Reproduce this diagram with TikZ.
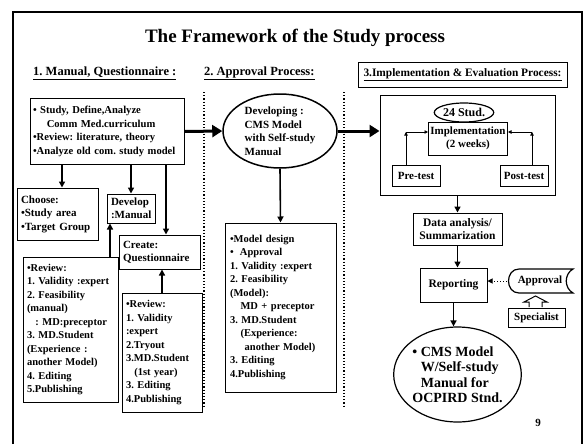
\documentclass[tikz,border=0pt]{standalone}
\usepackage{fontspec}
\setmainfont{Liberation Serif}
\usetikzlibrary{arrows.meta,shapes.geometric}
\frenchspacing
\begin{document}
\begin{tikzpicture}[x=1pt,y=-1pt,
  bx/.style={draw, line width=1pt, inner xsep=4pt, inner ysep=2pt, align=left},
  f11/.style={font=\bfseries\fontsize{11}{13.5}\selectfont},
  f105/.style={font=\bfseries\fontsize{10.5}{13.5}\selectfont},
  hd/.style={font=\bfseries\fontsize{12.5}{14}\selectfont, inner sep=0pt},
  arr/.style={line width=1.6pt, -{Triangle[length=6pt,width=6pt]}},
  bigarr/.style={line width=3pt, -{Triangle[length=10pt,width=12pt]}},
  sarr/.style={line width=0.8pt, -{Triangle[length=3.5pt,width=3.5pt]}},
  sepline/.style={line width=1.2pt, dotted},
]
\useasboundingbox (0,0) rectangle (585,444);
\fill[white] (0,0) rectangle (585,444);
% outer frame
\draw[line width=2pt] (13,444) -- (13,12);
\draw[line width=1.2pt] (12,12) -- (582,12) -- (582,444);

% title and headers
\node[font=\bfseries\fontsize{19}{22}\selectfont] (title) at (295,38) {The Framework of the Study process};
\node[hd, anchor=west] (h1) at (33,73) {\underline{1. Manual, Questionnaire :}};
\node[hd, anchor=west] (h2) at (204,73) {\underline{2. Approval Process:}};
\node[bx, font=\bfseries\fontsize{11.4}{13}\selectfont, minimum width=209pt, minimum height=25pt, align=center, inner xsep=2pt] (h3) at (462.5,74.5) {\underline{3.Implementation \& Evaluation Process:}};

% column separators
\draw[sepline] (204,92) -- (204,407);
\draw[sepline] (344,92) -- (344,407);

% column 1
\node[bx, font=\bfseries\fontsize{10.6}{13.5}\selectfont, minimum width=154pt, text width=148pt, inner xsep=3pt, minimum height=66pt] (b1) at (107,131.5)
  {• Study, Define,Analyze\\\hspace*{1.3em}Comm Med.curriculum\\•Review: literature, theory\\•Analyze old com. study model};
\node[bx, f11, minimum width=81pt, text width=73pt, minimum height=52pt] (choose) at (57.5,214)
  {Choose:\\•Study area\\•Target Group};
\node[bx, f11, minimum width=48pt, text width=40pt, minimum height=29pt, inner xsep=4pt] (develop) at (131,208.5)
  {Develop\\:Manual};
\node[bx, f11, minimum width=81pt, text width=73pt, minimum height=34pt] (create) at (159.5,252)
  {Create:\\Questionnaire};
\node[bx, f105, minimum width=95pt, text width=87pt, minimum height=145pt] (revL) at (70.5,329.5)
  {•Review:\\1. Validity :expert\\2. Feasibility\\(manual)\\\hspace*{0.8em}: MD:preceptor\\3. MD.Student\\(Experience :\\another Model)\\4. Editing\\5.Publishing};
\node[bx, f105, minimum width=80pt, text width=72pt, minimum height=119pt] (revR) at (162,352.5)
  {•Review:\\1. Validity\\:expert\\2.Tryout\\3.MD.Student\\\hspace*{0.8em}(1st year)\\3. Editing\\4.Publishing};

\coordinate (xa) at (62,0);
\coordinate (xc) at (166,0);
\coordinate (xd) at (110,0);
\draw[arr] (b1.south -| xa) -- (choose.north -| xa);
\draw[arr] (b1.south -| develop.north) -- (develop.north);
\draw[arr] (b1.south -| xc) -- (create.north -| xc);
\draw[arr] (revL.north -| xd) -- (develop.south -| xd);
\draw[arr] (revR.north) -- (revR.north |- create.south);

% column 2
\node[ellipse, draw, line width=1.5pt, minimum width=114pt, minimum height=74pt, inner sep=0pt, f11, align=left] (dev) at (280,131)
  {Developing :\\CMS Model\\with Self-study\\Manual};
\node[bx, f105, minimum width=111pt, text width=101pt, inner xsep=5pt, minimum height=169pt] (model) at (280.5,307.5)
  {•Model design\\•\hspace*{0.6em}Approval\\1. Validity :expert\\2. Feasibility\\(Model):\\\hspace*{1em}MD + preceptor\\3. MD.Student\\\hspace*{1em}(Experience:\\\hspace*{1.4em}another Model)\\3. Editing\\4.Publishing};
\draw[bigarr] (b1.east) -- (dev.west);
\draw[arr] (dev.south) -- (model.north);

% column 3
\node[bx, minimum width=175pt, minimum height=100pt] (box3) at (467.5,145) {};
\draw[bigarr] (dev.east) -- (dev.east -| box3.west);
\node[ellipse, draw, line width=1.2pt, minimum width=53pt, minimum height=19pt, inner sep=0pt, font=\bfseries\fontsize{12}{13}\selectfont] (stud) at (464,112.5) {24 Stud.};
\node[bx, f11, align=center, minimum width=79pt, minimum height=33pt, inner xsep=1pt, inner ysep=1pt] (impl) at (468,138.5) {Implementation\\(2 weeks)};
\node[bx, f11, align=center, minimum width=48pt, minimum height=21pt, inner xsep=1pt] (pre) at (416,175.5) {Pre-test};
\node[bx, f11, align=center, minimum width=48pt, minimum height=21pt, inner xsep=1pt] (post) at (524,175.5) {Post-test};
\coordinate (c1) at (406,132);
\coordinate (c2) at (532,132);
\draw[sarr] (pre.north -| c1) -- (c1);
\draw[sarr] (c1) -- (c1 -| impl.west);
\draw[sarr] (post.north -| c2) -- (c2);
\draw[sarr] (c2) -- (c2 -| impl.east);

\node[bx, font=\bfseries\fontsize{11.5}{13.5}\selectfont, align=center, minimum width=89pt, minimum height=32pt] (data) at (457.5,229) {Data analysis/\\Summarization};
\draw[arr] (box3.south -| data.north) -- (data.north);
\node[bx, font=\bfseries\fontsize{11.5}{13.5}\selectfont, align=center, minimum width=67pt, minimum height=34pt] (rep) at (453.5,285) {Reporting};
\draw[arr] (data.south) -- (data.south |- rep.north);

\node[minimum width=66pt, minimum height=24pt, inner sep=0pt, f11] (appr) at (540,281) {Approval};
\draw[line width=1.2pt] (519,269) -- (573,269) .. controls (564,274) and (564,288) .. (573,293) -- (519,293) .. controls (505,293) and (505,269) .. (519,269);
\draw[line width=1pt, dotted, -{Triangle[length=5pt,width=5pt]}] (appr.west) -- (rep.east |- appr.west);
\node[bx, f11, align=center, minimum width=57pt, minimum height=19pt, inner xsep=1pt, inner ysep=1pt] (spec) at (536.5,317.5) {Specialist};
\draw[line width=1pt, fill=white] (529,307) -- (529,302) -- (524,302) -- (535.5,296) -- (547,302) -- (542,302) -- (542,307);

\node[ellipse, draw, line width=1.2pt, minimum width=125pt, minimum height=95pt, inner sep=0pt, align=left, font=\bfseries\fontsize{14}{15.5}\selectfont] (final) at (457.5,374.5)
  {• CMS Model\\\hspace*{0.6em}W/Self-study\\\hspace*{0.6em}Manual for\\OCPIRD Stnd.};
\draw[arr] (rep.south) -- (rep.south |- final.north);

\node[font=\bfseries\fontsize{11}{12}\selectfont, inner sep=0pt] (pg) at (538,423) {9};
\end{tikzpicture}
\end{document}
